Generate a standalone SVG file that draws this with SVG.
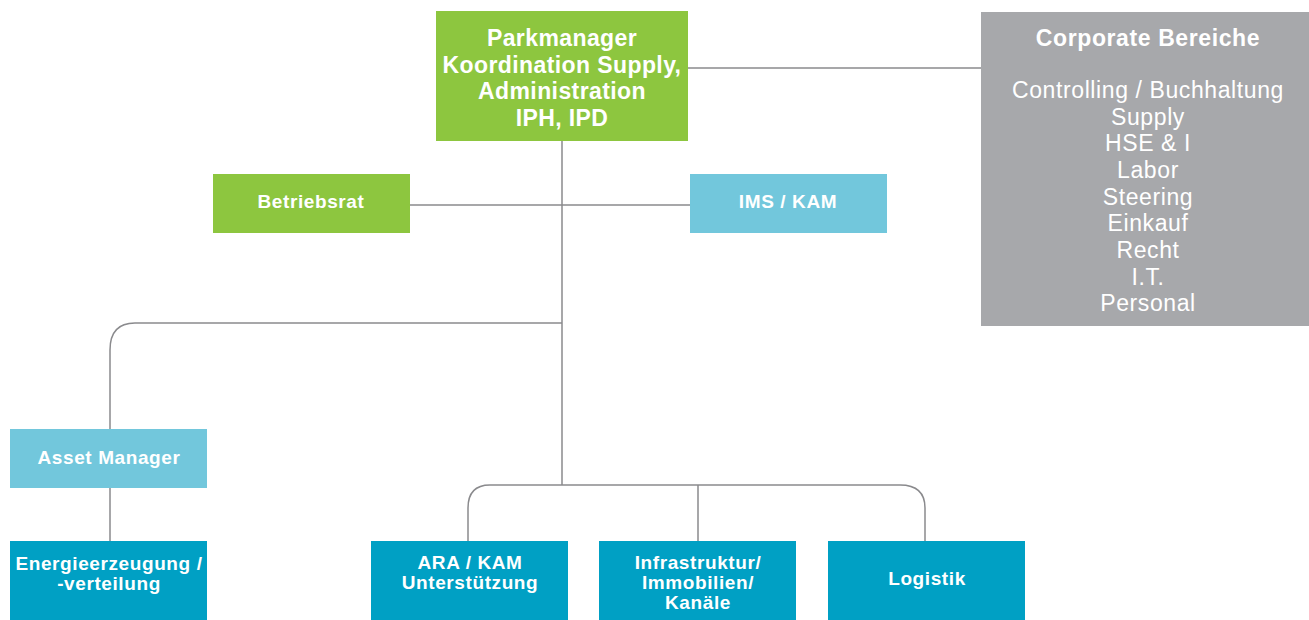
<svg xmlns="http://www.w3.org/2000/svg" width="1309" height="620" viewBox="0 0 1309 620">
<style>
.b{font-family:"Liberation Sans",Arial,sans-serif;font-weight:bold;fill:#fff;text-anchor:middle}
.r{font-family:"Liberation Sans",Arial,sans-serif;fill:#fff;text-anchor:middle}
.l{font-size:23px;letter-spacing:0.4px}
.t{font-size:23px;letter-spacing:0.6px}
.s{font-size:19px;letter-spacing:0.6px}
.green{fill:#8dc63f}
.light{fill:#72c7dc}
.dark{fill:#00a0c4}
.grey{fill:#a7a8ab}
.c{fill:none;stroke:#8a8a8d;stroke-width:1.5}
</style>
<rect width="1309" height="620" fill="#fff"/>
<g id="connectors">
<path class="c" d="M688 68H981"/>
<path class="c" d="M562 141V485"/>
<path class="c" d="M410 205H690"/>
<path class="c" d="M562 323H135Q110 323 110 350V429"/>
<path class="c" d="M110 488V541"/>
<path class="c" d="M490 485H900Q925 485 925 508V541"/>
<path class="c" d="M490 485Q468 485 468 508V541"/>
<path class="c" d="M698 485V541"/>
</g>
<g id="parkmanager">
<rect class="green" x="436" y="11" width="252" height="130"/>
<text class="b l" x="562" y="46">Parkmanager</text>
<text class="b l" x="562" y="73">Koordination Supply,</text>
<text class="b l" x="562" y="99">Administration</text>
<text class="b l" x="562" y="126">IPH, IPD</text>
</g>
<g id="corporate">
<rect class="grey" x="981" y="12" width="328" height="314"/>
<text class="b t" x="1148" y="46">Corporate Bereiche</text>
<text class="r t" x="1148" y="98">Controlling / Buchhaltung</text>
<text class="r t" x="1148" y="125">Supply</text>
<text class="r t" x="1148" y="151">HSE &amp; I</text>
<text class="r t" x="1148" y="178">Labor</text>
<text class="r t" x="1148" y="205">Steering</text>
<text class="r t" x="1148" y="231">Einkauf</text>
<text class="r t" x="1148" y="258">Recht</text>
<text class="r t" x="1148" y="285">I.T.</text>
<text class="r t" x="1148" y="311">Personal</text>
</g>
<g id="betriebsrat">
<rect class="green" x="213" y="174" width="197" height="59"/>
<text class="b s" x="311" y="208">Betriebsrat</text>
</g>
<g id="ims">
<rect class="light" x="690" y="174" width="197" height="59"/>
<text class="b s" x="788" y="208">IMS / KAM</text>
</g>
<g id="asset">
<rect class="light" x="10" y="429" width="197" height="59"/>
<text class="b s" x="109" y="464">Asset Manager</text>
</g>
<g id="energie">
<rect class="dark" x="10" y="541" width="197" height="79"/>
<text class="b s" x="109" y="570">Energieerzeugung /</text>
<text class="b s" x="109" y="590">-verteilung</text>
</g>
<g id="ara">
<rect class="dark" x="371" y="541" width="197" height="79"/>
<text class="b s" x="470" y="569">ARA / KAM</text>
<text class="b s" x="470" y="589">Unterstützung</text>
</g>
<g id="infra">
<rect class="dark" x="599" y="541" width="197" height="79"/>
<text class="b s" x="698" y="569">Infrastruktur/</text>
<text class="b s" x="698" y="589">Immobilien/</text>
<text class="b s" x="698" y="609">Kanäle</text>
</g>
<g id="logistik">
<rect class="dark" x="828" y="541" width="197" height="79"/>
<text class="b s" x="927" y="585">Logistik</text>
</g>
</svg>
